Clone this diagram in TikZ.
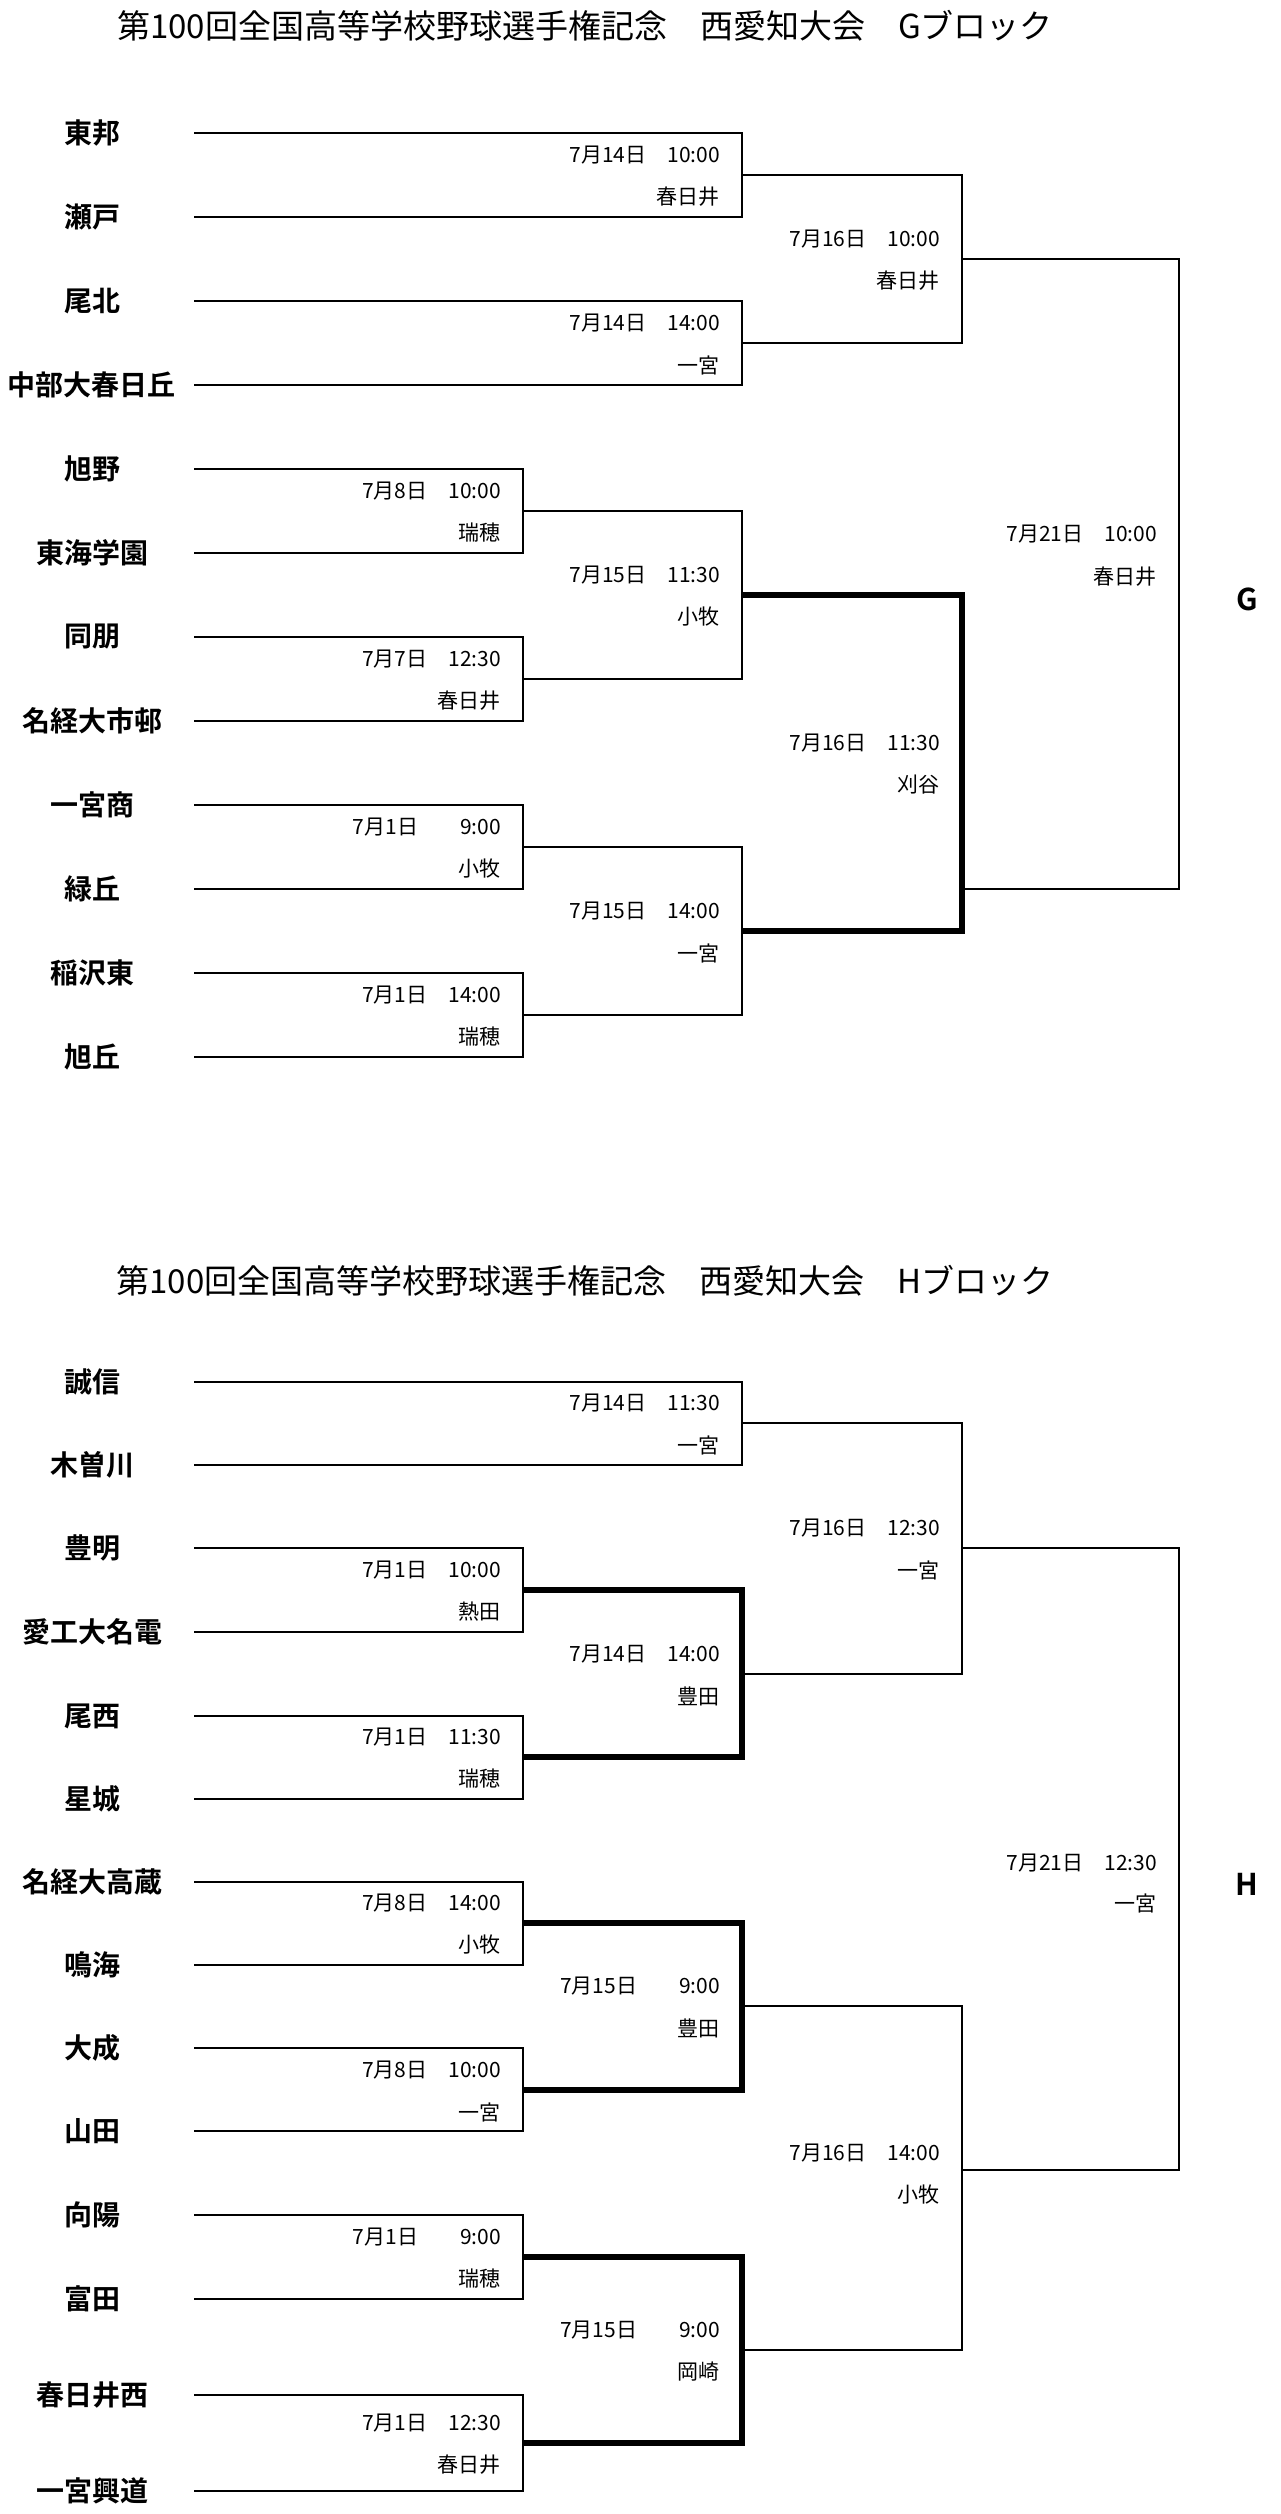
\documentclass[tikz,border=0pt]{standalone}
\usepackage{fontspec}
\setmainfont{Noto Sans CJK JP}
\newfontfamily\gothic{Noto Sans CJK JP Bold}
\begin{document}
\begin{tikzpicture}[x=1pt,y=-1pt]
		\tikzstyle{every node}+=[inner sep=0pt]
		\tikzstyle{thin line}=[line width=2pt]
		\tikzstyle{win line}=[line width=6pt]
		\tikzstyle{team}=[font=\gothic\fontsize{28}{28}\selectfont]
		\tikzstyle{info}=[font=\fontsize{21}{21}\selectfont, anchor=east]
		\tikzstyle{title}=[font=\fontsize{33}{33}\selectfont]
		\useasboundingbox (0,0) rectangle (1280,2514);
		% G block
		\node [title] (titleG) at (585,26) {第100回全国高等学校野球選手権記念　西愛知大会　Gブロック};
		\node [font=\gothic\fontsize{30}{30}\selectfont] (blockG) at (1247,599) {G};
		\foreach \t [count=\i from 0] in {東邦,瀬戸,尾北,中部大春日丘,旭野,東海学園,同朋,名経大市邨,一宮商,緑丘,稲沢東,旭丘}
			\node [team] (g\i) at (92,133+84*\i) {\t};
		\draw [thin line] (194,133) -- (742,133) -- (742,217) -- (194,217);
		\draw [thin line] (194,301) -- (742,301) -- (742,385) -- (194,385);
		\draw [thin line] (194,469) -- (523,469) -- (523,553) -- (194,553);
		\draw [thin line] (194,637) -- (523,637) -- (523,721) -- (194,721);
		\draw [thin line] (194,805) -- (523,805) -- (523,889) -- (194,889);
		\draw [thin line] (194,973) -- (523,973) -- (523,1057) -- (194,1057);
		\draw [thin line] (523,511) -- (742,511) -- (742,679) -- (523,679);
		\draw [thin line] (523,847) -- (742,847) -- (742,1015) -- (523,1015);
		\draw [thin line] (742,175) -- (962,175) -- (962,343) -- (742,343);
		\draw [win line] (742,595) -- (962,595) -- (962,931) -- (742,931);
		\draw [thin line] (962,259) -- (1179,259) -- (1179,889) -- (962,889);
		\node [info] at (720,155) {7月14日　10:00};
		\node [info] at (720,197) {春日井};
		\node [info] at (720,323) {7月14日　14:00};
		\node [info] at (720,365) {一宮};
		\node [info] at (501,491) {7月8日　10:00};
		\node [info] at (501,533) {瑞穂};
		\node [info] at (501,659) {7月7日　12:30};
		\node [info] at (501,701) {春日井};
		\node [info] at (501,827) {7月1日　　9:00};
		\node [info] at (501,869) {小牧};
		\node [info] at (501,995) {7月1日　14:00};
		\node [info] at (501,1037) {瑞穂};
		\node [info] at (720,575) {7月15日　11:30};
		\node [info] at (720,617) {小牧};
		\node [info] at (720,911) {7月15日　14:00};
		\node [info] at (720,953) {一宮};
		\node [info] at (940,239) {7月16日　10:00};
		\node [info] at (940,281) {春日井};
		\node [info] at (940,743) {7月16日　11:30};
		\node [info] at (940,785) {刈谷};
		\node [info] at (1157,534) {7月21日　10:00};
		\node [info] at (1157,577) {春日井};
		% H block
		\node [title] (titleH) at (585,1281) {第100回全国高等学校野球選手権記念　西愛知大会　Hブロック};
		\node [font=\gothic\fontsize{30}{30}\selectfont] (blockH) at (1247,1884) {H};
		\foreach \t/\y [count=\i from 0] in {誠信/1382,木曽川/1465,豊明/1548,愛工大名電/1632,尾西/1716,星城/1799,名経大高蔵/1882,鳴海/1965,大成/2048,山田/2131,向陽/2215,富田/2299,春日井西/2395,一宮興道/2491}
			\node [team] (h\i) at (92,\y) {\t};
		\draw [thin line] (194,1382) -- (742,1382) -- (742,1465) -- (194,1465);
		\draw [thin line] (194,1548) -- (523,1548) -- (523,1632) -- (194,1632);
		\draw [thin line] (194,1716) -- (523,1716) -- (523,1799) -- (194,1799);
		\draw [thin line] (194,1882) -- (523,1882) -- (523,1965) -- (194,1965);
		\draw [thin line] (194,2048) -- (523,2048) -- (523,2131) -- (194,2131);
		\draw [thin line] (194,2215) -- (523,2215) -- (523,2299) -- (194,2299);
		\draw [thin line] (194,2395) -- (523,2395) -- (523,2491) -- (194,2491);
		\draw [win line] (523,1590) -- (742,1590) -- (742,1757) -- (523,1757);
		\draw [win line] (523,1923) -- (742,1923) -- (742,2090) -- (523,2090);
		\draw [win line] (523,2257) -- (742,2257) -- (742,2443) -- (523,2443);
		\draw [thin line] (742,1423) -- (962,1423) -- (962,1674) -- (742,1674);
		\draw [thin line] (742,2006) -- (962,2006) -- (962,2350) -- (742,2350);
		\draw [thin line] (962,1548) -- (1179,1548) -- (1179,2170) -- (962,2170);
		\node [info] at (720,1403) {7月14日　11:30};
		\node [info] at (720,1445) {一宮};
		\node [info] at (501,1570) {7月1日　10:00};
		\node [info] at (501,1612) {熱田};
		\node [info] at (501,1737) {7月1日　11:30};
		\node [info] at (501,1779) {瑞穂};
		\node [info] at (501,1903) {7月8日　14:00};
		\node [info] at (501,1945) {小牧};
		\node [info] at (501,2070) {7月8日　10:00};
		\node [info] at (501,2112) {一宮};
		\node [info] at (501,2237) {7月1日　　9:00};
		\node [info] at (501,2279) {瑞穂};
		\node [info] at (501,2423) {7月1日　12:30};
		\node [info] at (501,2465) {春日井};
		\node [info] at (720,1654) {7月14日　14:00};
		\node [info] at (720,1696) {豊田};
		\node [info] at (720,1986) {7月15日　　9:00};
		\node [info] at (720,2028) {豊田};
		\node [info] at (720,2330) {7月15日　　9:00};
		\node [info] at (720,2372) {岡崎};
		\node [info] at (940,1528) {7月16日　12:30};
		\node [info] at (940,1570) {一宮};
		\node [info] at (940,2153) {7月16日　14:00};
		\node [info] at (940,2195) {小牧};
		\node [info] at (1157,1863) {7月21日　12:30};
		\node [info] at (1157,1903) {一宮};
\end{tikzpicture}
\end{document}
